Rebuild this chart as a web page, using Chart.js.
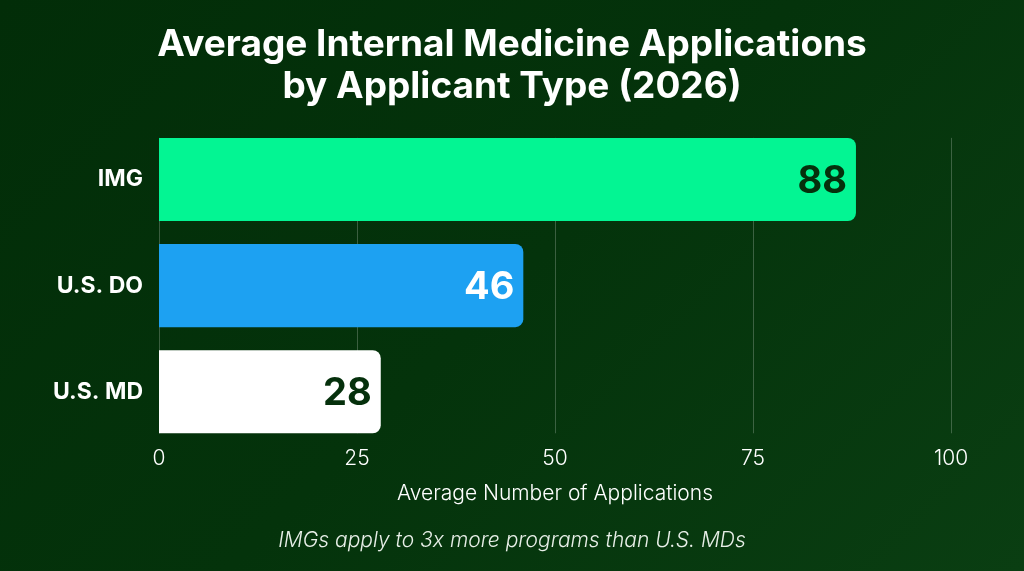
<!DOCTYPE html>
<html>
<head>
<meta charset="utf-8">
<script src="https://cdn.jsdelivr.net/npm/chart.js@4.4.1/dist/chart.umd.min.js"></script>
<style>
  html, body { margin: 0; padding: 0; }
  body {
    width: 1024px; height: 571px; overflow: hidden;
    background: linear-gradient(135deg, #022d08 0%, #04330b 50%, #0a3e12 100%);
  }
  #wrap { width: 1024px; height: 571px; position: relative; }
</style>
</head>
<body>
<div id="wrap"><canvas id="c" width="1024" height="571"></canvas></div>
<script>
const categories = ["IMG", "U.S. DO", "U.S. MD"];
const values = [88, 46, 28];
const barColors = ["#03F593", "#1DA1F2", "#FFFFFF"];
const labelColors = ["#05300c", "#FFFFFF", "#05300c"];
const tickValues = [0, 25, 50, 75, 100];
const titleLines = ["Average Internal Medicine Applications", "by Applicant Type (2026)"];
const xAxisTitle = "Average Number of Applications";
const footnote = "IMGs apply to 3x more programs than U.S. MDs";

// vertical grid lines spanning only the bar extent
const barGrid = {
  id: 'barGrid',
  beforeDatasetsDraw(chart) {
    const meta = chart.getDatasetMeta(0);
    const first = meta.data[0], last = meta.data[meta.data.length - 1];
    const top = first.y - first.height / 2;
    const bottom = last.y + last.height / 2;
    const xs = chart.scales.x;
    const ctx = chart.ctx;
    ctx.save();
    ctx.strokeStyle = 'rgba(255,255,255,0.22)';
    ctx.lineWidth = 1;
    tickValues.forEach(v => {
      const px = Math.round(xs.getPixelForValue(v)) + 0.5;
      ctx.beginPath();
      ctx.moveTo(px, top);
      ctx.lineTo(px, bottom);
      ctx.stroke();
    });
    ctx.restore();
  }
};

const valueLabels = {
  id: 'valueLabels',
  afterDatasetsDraw(chart) {
    const ctx = chart.ctx;
    const meta = chart.getDatasetMeta(0);
    ctx.save();
    ctx.font = 'bold 38px Inter';
    ctx.textAlign = 'right';
    ctx.textBaseline = 'middle';
    meta.data.forEach((bar, i) => {
      ctx.fillStyle = labelColors[i];
      ctx.fillText(String(values[i]), bar.x - 9, bar.y + 2);
    });
    ctx.restore();
  }
};

new Chart(document.getElementById('c'), {
  type: 'bar',
  data: {
    labels: categories,
    datasets: [{
      data: values,
      backgroundColor: barColors,
      borderWidth: 0,
      borderRadius: { topRight: 8, bottomRight: 8, topLeft: 0, bottomLeft: 0 },
      borderSkipped: false,
      barPercentage: 0.783,
      categoryPercentage: 1.0
    }]
  },
  options: {
    indexAxis: 'y',
    responsive: false,
    animation: false,
    layout: { padding: { left: 0, right: 0, top: 0, bottom: 18 } },
    plugins: {
      legend: { display: false },
      tooltip: { enabled: false },
      title: {
        display: true,
        text: titleLines,
        color: '#FFFFFF',
        font: { family: 'Inter', size: 37, weight: 'bold', lineHeight: 1.14 },
        padding: { top: 24, bottom: 18 }
      },
      subtitle: {
        display: true,
        position: 'bottom',
        text: footnote,
        color: '#E8EFE8',
        font: { family: 'Inter', size: 21, style: 'italic', weight: 300, lineHeight: 1.2 },
        padding: { top: 20, bottom: 0 }
      }
    },
    scales: {
      x: {
        min: 0, max: 100,
        afterBuildTicks(scale) { scale.ticks = tickValues.map(v => ({ value: v })); },
        afterFit(scale) { scale.height = 63; },
        grid: { display: false, drawTicks: false },
        border: { display: false },
        ticks: {
          color: '#FFFFFF',
          font: { family: 'Inter', size: 21, weight: 300 },
          padding: 1,
          maxRotation: 0
        },
        title: {
          display: true,
          text: xAxisTitle,
          color: '#FFFFFF',
          font: { family: 'Inter', size: 21, weight: 300, lineHeight: 1.2 },
          padding: { top: 6, bottom: 2 }
        }
      },
      y: {
        grid: { display: false, drawTicks: false },
        border: { display: false },
        afterFit(scale) { scale.width = 159; },
        ticks: {
          color: '#FFFFFF',
          font: { family: 'Inter', size: 23, weight: 'bold' },
          padding: 16
        }
      },
      yRight: {
        type: 'linear',
        position: 'right',
        display: true,
        grid: { display: false, drawTicks: false },
        border: { display: false },
        ticks: { display: false },
        afterFit(scale) { scale.width = 73; }
      }
    }
  },
  plugins: [barGrid, valueLabels]
});
</script>
</body>
</html>
